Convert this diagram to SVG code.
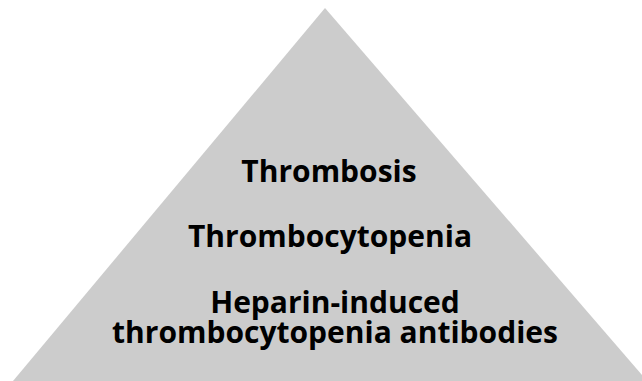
<svg xmlns="http://www.w3.org/2000/svg" width="642" height="381" viewBox="0 0 642 381">
  <style>
    .lbl { font-family: "Open Sans", "Liberation Sans", sans-serif; font-weight: bold; font-size: 30px; fill: #000; text-anchor: middle; }
  </style>
  <rect width="642" height="381" fill="#ffffff"/>
  <g id="pyramid">
    <polygon points="325,8 13,381 642,381 642,375" fill="#cccccc"/>
  </g>
  <g id="level-top">
    <text class="lbl" x="329" y="182">Thrombosis</text>
  </g>
  <g id="level-middle">
    <text class="lbl" x="330" y="247">Thrombocytopenia</text>
  </g>
  <g id="level-base">
    <text class="lbl" x="335" y="313">Heparin-induced<tspan x="335" dy="30">thrombocytopenia antibodies</tspan></text>
  </g>
</svg>
